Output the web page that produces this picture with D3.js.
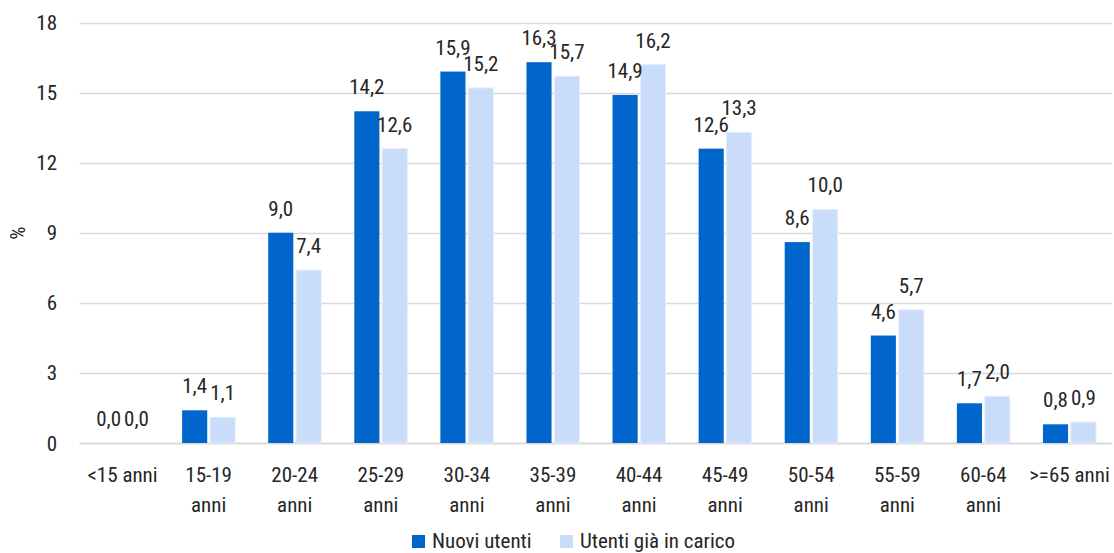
<!DOCTYPE html>
<html lang="en">
<head>
<meta charset="UTF-8">
<title>Utenti per classe di età</title>
<script src="https://cdn.jsdelivr.net/npm/d3@7"></script>
<style>
    body { margin: 0; background: #fff; }
    svg { display: block; }
    text { font-family: "Liberation Sans Narrow", "Roboto Condensed", "Arial Narrow", sans-serif; fill: #262626; }
</style>
</head>
<body>
<div id="chart"></div>
<script>
    // data
    var categories = ['<15 anni', '15-19 anni', '20-24 anni', '25-29 anni', '30-34 anni', '35-39 anni',
                      '40-44 anni', '45-49 anni', '50-54 anni', '55-59 anni', '60-64 anni', '>=65 anni'];
    var nuovi = [0.0, 1.4, 9.0, 14.2, 15.9, 16.3, 14.9, 12.6, 8.6, 4.6, 1.7, 0.8];
    var giaInCarico = [0.0, 1.1, 7.4, 12.6, 15.2, 15.7, 16.2, 13.3, 10.0, 5.7, 2.0, 0.9];
    var seriesNames = ['Nuovi utenti', 'Utenti già in carico'];
    var yTicks = [0, 3, 6, 9, 12, 15, 18];

    var width = 1114, height = 553;
    var colors = ['#0066CC', '#C9DCFA'];
    var fontSize = 21;

    var svg = d3.select('#chart').append('svg')
        .attr('width', width)
        .attr('height', height);

    var x = d3.scaleBand().domain(categories).range([79.5, 1112.5]);
    var y = d3.scaleLinear().domain([0, 18]).range([443, 22.5]);
    var sub = d3.scaleBand().domain([0, 1]).range([x.bandwidth() / 2 - 26.5, x.bandwidth() / 2 + 26.5]).paddingInner(0.1);

    // gridlines
    svg.append('g').selectAll('line')
        .data(yTicks)
        .join('line')
        .attr('x1', 79.5).attr('x2', 1112.5)
        .attr('y1', d => Math.round(y(d)) + 0.5)
        .attr('y2', d => Math.round(y(d)) + 0.5)
        .attr('stroke', '#d9d9d9')
        .attr('stroke-width', d => d === 0 ? 2 : 1.5);

    // y tick labels
    svg.append('g').selectAll('text')
        .data(yTicks)
        .join('text')
        .attr('x', 57)
        .attr('y', d => y(d))
        .attr('dy', '0.36em')
        .attr('text-anchor', 'end')
        .style('font-size', fontSize + 'px')
        .text(d => d);

    svg.append('text')
        .attr('transform', 'translate(25,233) rotate(-90)')
        .attr('text-anchor', 'middle')
        .style('font-size', fontSize + 'px')
        .text('%');

    var rows = categories.map((c, i) => ({ cat: c, vals: [nuovi[i], giaInCarico[i]] }));

    var groups = svg.append('g').selectAll('g')
        .data(rows)
        .join('g')
        .attr('transform', d => 'translate(' + x(d.cat) + ',0)');

    groups.selectAll('rect')
        .data(d => d.vals)
        .join('rect')
        .attr('x', (d, i) => sub(i))
        .attr('width', sub.bandwidth())
        .attr('y', d => y(d))
        .attr('height', d => y(0) - y(d))
        .attr('fill', (d, i) => colors[i])
        .attr('stroke', (d, i) => i === 1 ? '#e4eefd' : 'none')
        .attr('stroke-width', 1);

    groups.selectAll('text.val')
        .data(d => d.vals)
        .join('text')
        .attr('class', 'val')
        .attr('x', (d, i) => sub(i) + sub.bandwidth() / 2)
        .attr('y', d => y(d) - 17)
        .attr('text-anchor', 'middle')
        .style('font-size', fontSize + 'px')
        .text(d => d.toFixed(1).replace('.', ','));

    // category labels, wrapped like the original
    groups.append('text')
        .attr('x', x.bandwidth() / 2)
        .attr('y', 482)
        .attr('text-anchor', 'middle')
        .style('font-size', fontSize + 'px')
        .each(function(d, i) {
            var lines = (i === 0 || i === categories.length - 1) ? [d.cat] : d.cat.split(' ');
            d3.select(this).selectAll('tspan')
                .data(lines)
                .join('tspan')
                .attr('x', x.bandwidth() / 2)
                .attr('dy', (l, j) => j === 0 ? 0 : 30)
                .text(l => l);
        });

    // legend
    var legend = svg.append('g');
    var legendX = [412, 560];
    seriesNames.forEach(function(name, i) {
        legend.append('rect')
            .attr('x', legendX[i]).attr('y', 535)
            .attr('width', 13).attr('height', 13)
            .attr('fill', colors[i]);
        legend.append('text')
            .attr('x', legendX[i] + 20).attr('y', 548)
            .style('font-size', fontSize + 'px')
            .text(name);
    });
</script>
</body>
</html>
